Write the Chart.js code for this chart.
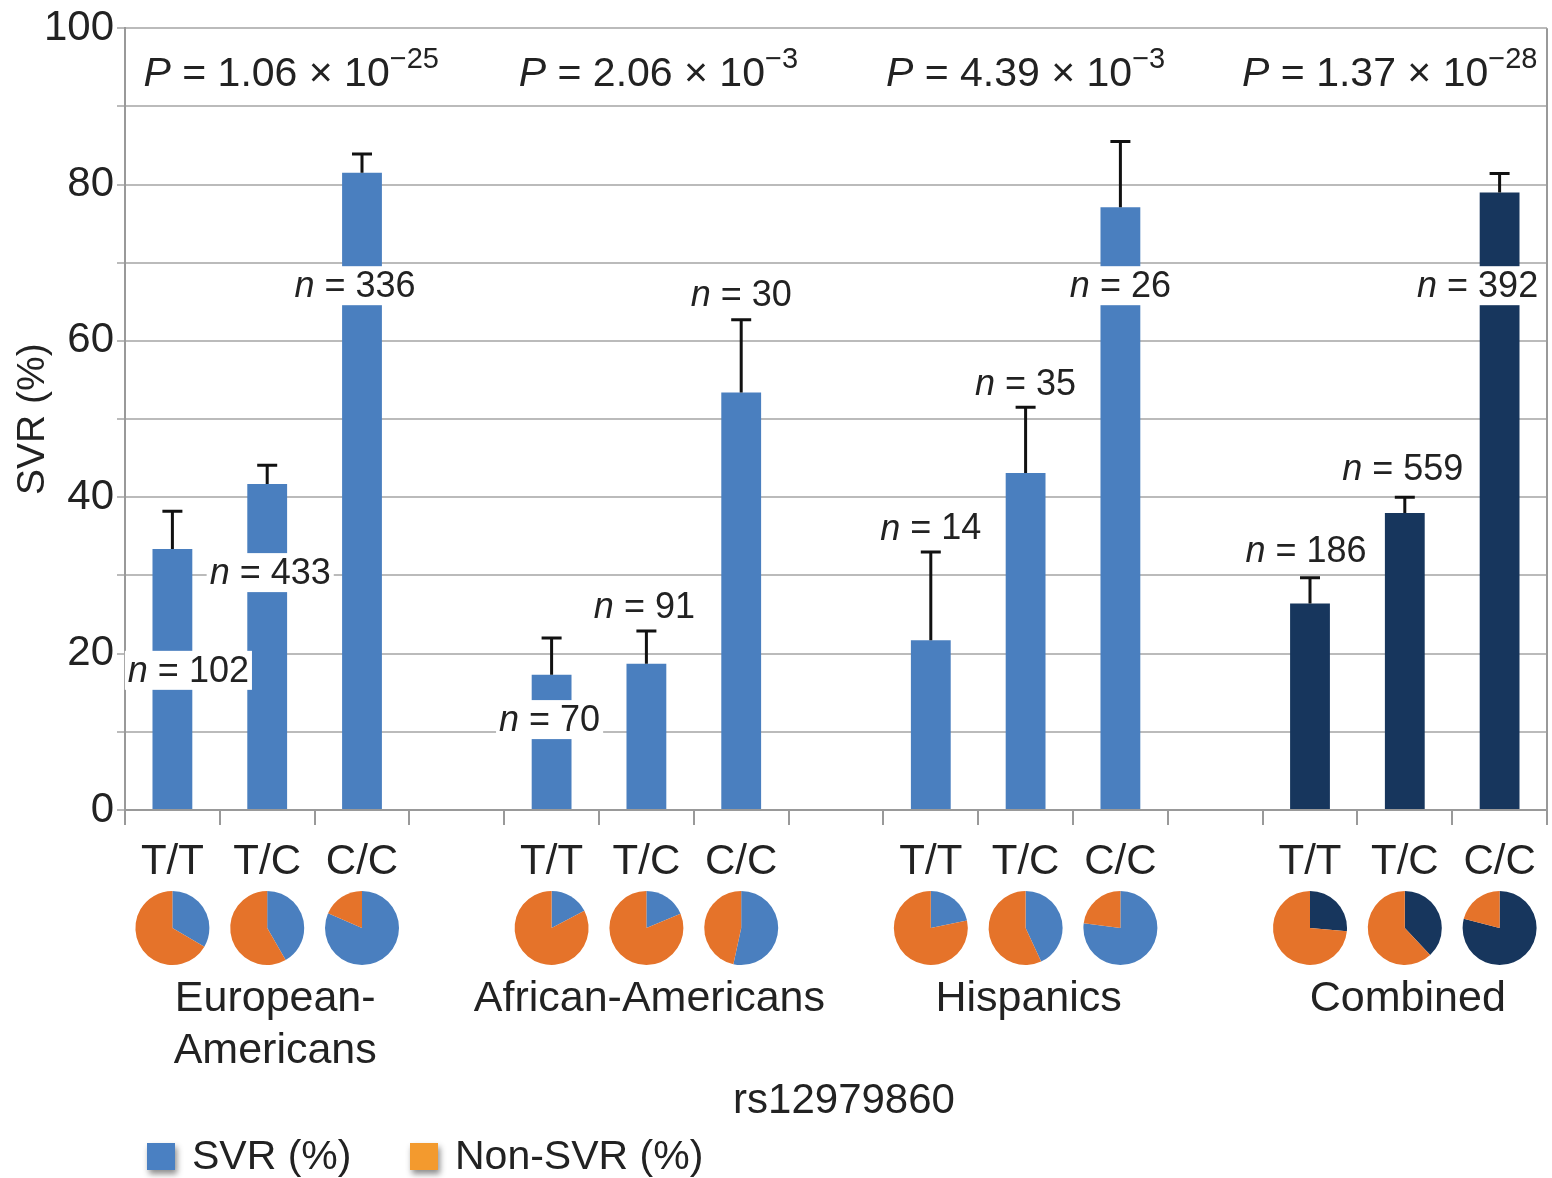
<!doctype html>
<html>
<head>
<meta charset="utf-8">
<script src="https://cdn.jsdelivr.net/npm/chart.js"></script>
<style>
  body { margin: 0; background: #fff; }
</style>
</head>
<body>
<canvas id="svrChart" width="1552" height="1178"></canvas>
<script>
// --- data ---
const groupNames = [['European-', 'Americans'], ['African-Americans'], ['Hispanics'], ['Combined']];
const genotypes = ['T/T', 'T/C', 'C/C'];
const svrPct = [33.4, 41.7, 81.5, 17.3, 18.7, 53.4, 21.7, 43.1, 77.1, 26.4, 38.0, 79.0];
const errUpper = [38.2, 44.1, 83.9, 22.0, 22.9, 62.7, 33.0, 51.5, 85.5, 29.7, 40.0, 81.4];
const nPatients = [102, 433, 336, 70, 91, 30, 14, 35, 26, 186, 559, 392];
const pMantissa = ['1.06', '2.06', '4.39', '1.37'];
const pExponent = ['\u221225', '\u22123', '\u22123', '\u221228'];
const yTickLabels = [0, 20, 40, 60, 80, 100];

const BLUE = '#4a7fbf';
const NAVY = '#17365d';
const ORANGE = '#e5732a';
const TEXT = '#222';
const FONT = '"Liberation Sans", Arial, sans-serif';

// where the n = ... labels sit: [x shift in px, y in data units]
const nLabelAt = [[16, 17.8], [3, 30.3], [-7, 67.0], [-2, 11.5], [-2, 26.0], [0, 65.9],
                  [0, 36.0], [0, 54.5], [0, 67.0], [-4, 33.1], [-2, 43.6], [-22, 67.0]];
const pShift = [24, 12, 0, -15];

const labels = [], values = [], colors = [], barSlot = [];
groupNames.forEach((g, gi) => {
  genotypes.forEach((gt, k) => {
    barSlot.push(labels.length);
    labels.push(gt);
    values.push(svrPct[gi * 3 + k]);
    colors.push(gi === 3 ? NAVY : BLUE);
  });
  if (gi < groupNames.length - 1) {
    labels.push('');
    values.push(null);
    colors.push('rgba(0,0,0,0)');
  }
});

function richText(ctx, parts, x, y) {
  // parts: [text, font, dy], centred on x
  let w = 0;
  parts.forEach(p => { ctx.font = p[1]; w += ctx.measureText(p[0]).width; });
  let cx = x - w / 2;
  ctx.textAlign = 'left';
  parts.forEach(p => {
    ctx.font = p[1];
    ctx.fillText(p[0], cx, y + (p[2] || 0));
    cx += ctx.measureText(p[0]).width;
  });
  return w;
}

const extras = {
  id: 'extras',
  afterDatasetsDraw(chart) {
    const ctx = chart.ctx;
    const xs = chart.scales.x, ys = chart.scales.y;
    const area = chart.chartArea;
    ctx.save();

    // right border
    ctx.strokeStyle = '#999';
    ctx.lineWidth = 2;
    ctx.beginPath();
    ctx.moveTo(area.right, area.top);
    ctx.lineTo(area.right, area.bottom);
    ctx.stroke();

    // error bars
    ctx.strokeStyle = '#111';
    ctx.lineWidth = 3;
    barSlot.forEach((slot, i) => {
      const x = xs.getPixelForValue(slot);
      const y0 = ys.getPixelForValue(svrPct[i]);
      const y1 = ys.getPixelForValue(errUpper[i]);
      ctx.beginPath();
      ctx.moveTo(x, y0);
      ctx.lineTo(x, y1);
      ctx.moveTo(x - 10, y1);
      ctx.lineTo(x + 10, y1);
      ctx.stroke();
    });

    // n labels with white boxes
    ctx.textBaseline = 'middle';
    barSlot.forEach((slot, i) => {
      const x = xs.getPixelForValue(slot) + nLabelAt[i][0];
      const y = ys.getPixelForValue(nLabelAt[i][1]);
      const parts = [['n', 'italic 36px ' + FONT], [' = ' + nPatients[i], '36px ' + FONT]];
      let w = 0;
      parts.forEach(p => { ctx.font = p[1]; w += ctx.measureText(p[0]).width; });
      ctx.fillStyle = '#fff';
      ctx.fillRect(x - w / 2 - 3, y - 20, w + 6, 39);
      ctx.fillStyle = TEXT;
      richText(ctx, parts, x, y + 1);
    });

    // P values
    ctx.fillStyle = TEXT;
    groupNames.forEach((g, gi) => {
      const x = xs.getPixelForValue(barSlot[gi * 3 + 1]) + pShift[gi];
      const y = ys.getPixelForValue(95) + 7;
      richText(ctx, [
        ['P', 'italic 41px ' + FONT],
        [' = ' + pMantissa[gi] + ' \u00d7 10', '41px ' + FONT],
        [pExponent[gi], '29px ' + FONT, -14]
      ], x, y);
    });

    // pies
    const pieY = 928, r = 37;
    barSlot.forEach((slot, i) => {
      const x = xs.getPixelForValue(slot);
      const f = svrPct[i] / 100;
      const a0 = -Math.PI / 2, a1 = a0 + f * 2 * Math.PI;
      ctx.fillStyle = i >= 9 ? NAVY : BLUE;
      ctx.beginPath();
      ctx.moveTo(x, pieY);
      ctx.arc(x, pieY, r, a0, a1);
      ctx.closePath();
      ctx.fill();
      ctx.fillStyle = ORANGE;
      ctx.beginPath();
      ctx.moveTo(x, pieY);
      ctx.arc(x, pieY, r, a1, a0 + 2 * Math.PI);
      ctx.closePath();
      ctx.fill();
    });

    // group names
    ctx.fillStyle = TEXT;
    ctx.font = '43px ' + FONT;
    ctx.textAlign = 'center';
    groupNames.forEach((g, gi) => {
      const x = xs.getPixelForValue(barSlot[gi * 3 + 1]) + (gi === 0 ? 8 : 3);
      g.forEach((line, li) => ctx.fillText(line, x, 999 + li * 52));
    });

    // x title
    ctx.font = '42px ' + FONT;
    ctx.fillText('rs12979860', (area.left + area.right) / 2 + 8, 1101);

    // legend
    const legend = [['SVR (%)', '#4a80c2', 147], ['Non-SVR (%)', '#f39a2e', 410]];
    legend.forEach(([txt, col, lx]) => {
      ctx.save();
      ctx.shadowColor = 'rgba(0,0,0,0.45)';
      ctx.shadowBlur = 6;
      ctx.shadowOffsetX = 2;
      ctx.shadowOffsetY = 4;
      ctx.fillStyle = col;
      ctx.fillRect(lx, 1143, 28, 27);
      ctx.restore();
      ctx.fillStyle = TEXT;
      ctx.font = '41px ' + FONT;
      ctx.textAlign = 'left';
      ctx.fillText(txt, lx + 45, 1158);
    });

    ctx.restore();
  }
};

new Chart(document.getElementById('svrChart').getContext('2d'), {
  type: 'bar',
  data: {
    labels: labels,
    datasets: [{
      data: values,
      backgroundColor: colors,
      barPercentage: 0.42,
      categoryPercentage: 1
    }]
  },
  options: {
    responsive: false,
    animation: false,
    layout: { padding: { top: 22, right: 5, left: 0, bottom: 0 } },
    plugins: { legend: { display: false }, tooltip: { enabled: false } },
    scales: {
      x: {
        grid: { offset: true, drawOnChartArea: false, tickLength: 15, color: '#999', lineWidth: 2 },
        border: { color: '#999', width: 2 },
        ticks: { autoSkip: false, maxRotation: 0, padding: 12, color: TEXT, font: { family: FONT, size: 42 } },
        afterFit: s => { s.height = 368; }
      },
      y: {
        min: 0,
        max: 100,
        ticks: {
          stepSize: 10,
          padding: 3,
          color: TEXT,
          font: { family: FONT, size: 42 },
          callback: v => (yTickLabels.includes(v) ? v : '')
        },
        grid: { color: '#bbb', lineWidth: 2, tickLength: 8 },
        border: { color: '#999', width: 2 },
        title: { display: true, text: 'SVR (%)', color: TEXT, font: { family: FONT, size: 39 }, padding: { top: 10, bottom: 0 } },
        afterFit: s => { s.width = 125; }
      }
    }
  },
  plugins: [extras]
});
</script>
</body>
</html>
